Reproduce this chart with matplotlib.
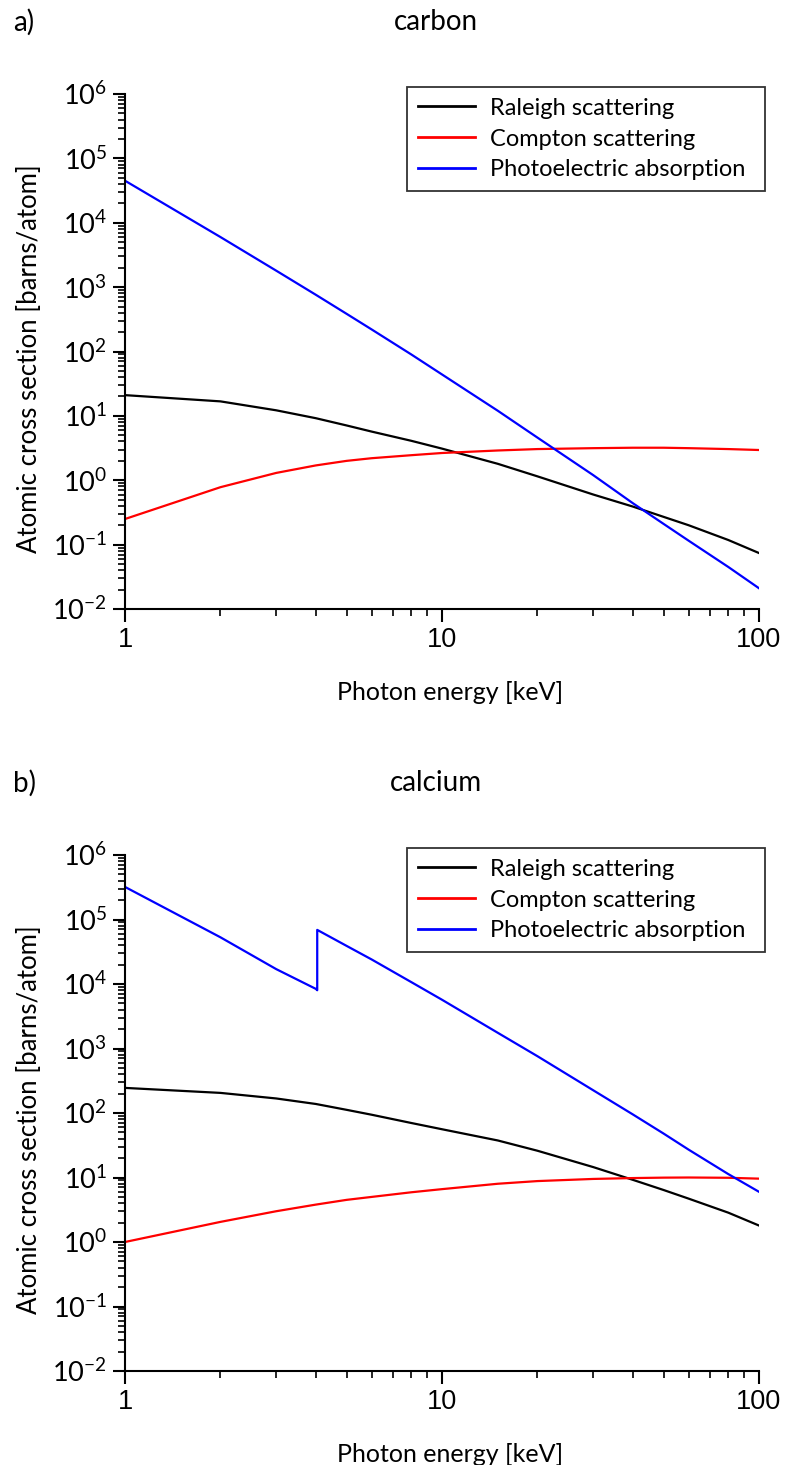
import numpy as np
import matplotlib
matplotlib.use("Agg")
import matplotlib.pyplot as plt
from matplotlib.ticker import LogLocator, NullFormatter, FixedLocator, FixedFormatter

plt.rcParams['font.family'] = ['Lato', 'DejaVu Sans']
plt.rcParams['mathtext.fontset'] = 'custom'
plt.rcParams['mathtext.rm'] = 'Liberation Sans'
plt.rcParams['mathtext.it'] = 'Liberation Sans'
plt.rcParams['axes.unicode_minus'] = False

# photon energies [keV]
energy = [1, 2, 3, 4, 5, 6, 8, 10, 15, 20, 30, 40, 50, 60, 80, 100]

# carbon, barns/atom
c_rayleigh = [21, 16.8, 12.2, 9.2, 7.1, 5.7, 4.1, 3.1, 1.8, 1.15, 0.60, 0.39, 0.27, 0.20, 0.118, 0.074]
c_compton = [0.25, 0.78, 1.3, 1.7, 2.0, 2.2, 2.45, 2.65, 2.9, 3.05, 3.15, 3.2, 3.2, 3.15, 3.05, 2.95]
c_photo = [45000, 6000, 1800, 760, 385, 220, 90, 44, 12, 4.6, 1.2, 0.44, 0.21, 0.115, 0.045, 0.021]

# calcium, barns/atom (photoelectric has the K edge at 4.04 keV)
ca_rayleigh = [245, 205, 168, 138, 112, 94, 70, 56, 37.5, 26, 14.5, 9.2, 6.4, 4.7, 2.85, 1.8]
ca_compton = [1.0, 2.05, 3.0, 3.8, 4.5, 5.0, 5.9, 6.6, 8.0, 8.8, 9.5, 9.8, 9.95, 10.0, 9.9, 9.6]
ca_photo_energy = [1, 2, 3, 4, 4.04, 4.04, 5, 6, 8, 10, 15, 20, 30, 40, 50, 60, 80, 100]
ca_photo = [3.2e5, 5.3e4, 1.7e4, 8.4e3, 8.0e3, 6.9e4, 3.9e4, 2.4e4, 1.07e4, 5.7e3, 1.75e3,
            760, 225, 95, 48, 27, 11.3, 6.0]

series_names = ["Raleigh scattering", "Compton scattering", "Photoelectric absorption"]

W, H = 787, 1465
fig = plt.figure(figsize=(W / 100, H / 100), dpi=100)


def panel(top, bottom, letter, element, ray, comp, photo_e, photo):
    ax = fig.add_axes([125 / W, 1 - bottom / H, 634 / W, (bottom - top) / H])
    ax.plot(energy, ray, color="black", lw=1.6, label=series_names[0])
    ax.plot(energy, comp, color="red", lw=1.6, label=series_names[1])
    ax.plot(photo_e, photo, color="blue", lw=1.6, label=series_names[2])
    ax.set_xscale("log")
    ax.set_yscale("log")
    ax.set_xlim(1, 100)
    ax.set_ylim(1e-2, 1e6)
    for s in ["top", "right"]:
        ax.spines[s].set_visible(False)
    for s in ["left", "bottom"]:
        ax.spines[s].set_linewidth(1.5)

    ax.xaxis.set_major_locator(FixedLocator([1, 10, 100]))
    ax.xaxis.set_major_formatter(FixedFormatter(["1", "10", "100"]))
    ax.xaxis.set_minor_locator(LogLocator(base=10, subs=np.arange(2, 10), numticks=20))
    ax.xaxis.set_minor_formatter(NullFormatter())
    ax.yaxis.set_major_locator(LogLocator(base=10, numticks=20))
    ax.yaxis.set_minor_locator(LogLocator(base=10, subs=np.arange(2, 10), numticks=20))
    ax.yaxis.set_minor_formatter(NullFormatter())
    ax.tick_params(which="major", direction="out", length=9, width=1.5, labelsize=19.5, pad=4)
    ax.tick_params(which="minor", direction="out", length=5, width=1.2)
    for lab in ax.get_xticklabels():
        lab.set_fontfamily("Liberation Sans")

    ax.set_xlabel("Photon energy [keV]", fontsize=18, labelpad=20)
    ax.xaxis.label.set_x((450 - 125) / 634)
    fig.text(30 / W, 1 - (top + 265) / H, "Atomic cross section [barns/atom]",
             rotation=90, fontsize=18.5, ha="center", va="center")
    fig.text(13 / W, 1 - (top - 72) / H, letter, fontsize=20, ha="left", va="center")
    fig.text(436 / W, 1 - (top - 72) / H, element, fontsize=20, ha="center", va="center")

    leg = ax.legend(loc="upper left", bbox_to_anchor=(407 / W, 1 - (top + 90) / H, 358 / W, 97 / H),
                    bbox_transform=fig.transFigure, mode="expand", fontsize=17,
                    frameon=True, fancybox=False, borderaxespad=0, handlelength=2.45,
                    handletextpad=0.6, labelspacing=0.42, borderpad=0.45)
    leg.get_frame().set_edgecolor("black")
    leg.get_frame().set_linewidth(1.3)
    for h in leg.get_lines():
        h.set_linewidth(2)
    return ax


panel(94, 609, "a)", "carbon", c_rayleigh, c_compton, energy, c_photo)
panel(855, 1371, "b)", "calcium", ca_rayleigh, ca_compton, ca_photo_energy, ca_photo)

fig.savefig("out.png", dpi=100)
